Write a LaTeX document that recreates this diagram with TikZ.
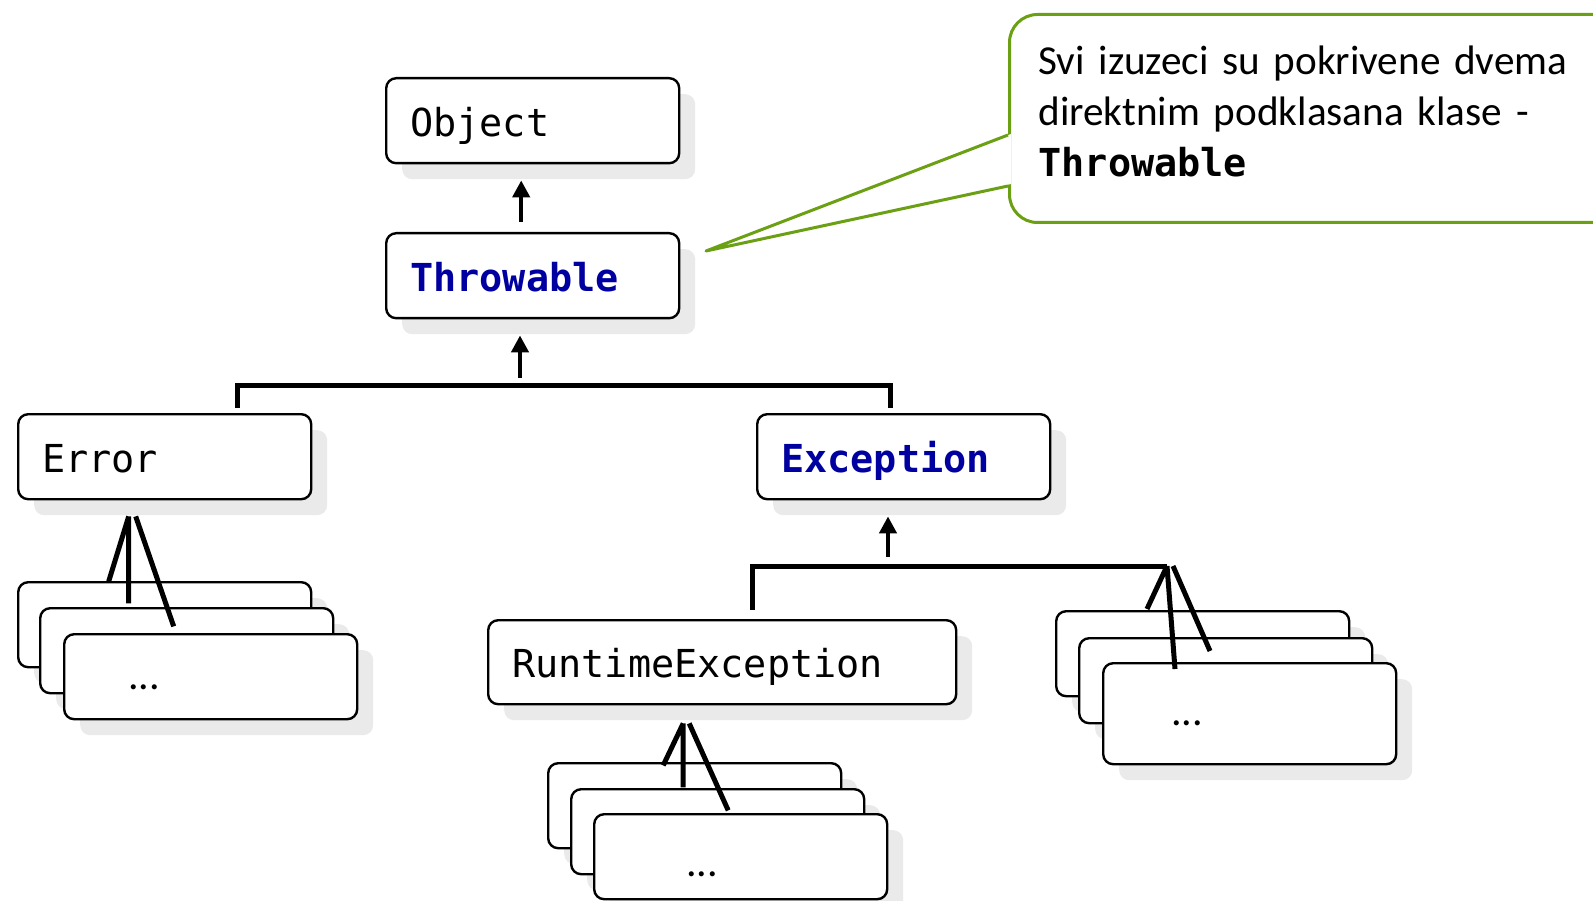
\documentclass[tikz,border=0pt]{standalone}
\usepackage{fontspec}
\setmainfont{Carlito}
\newfontfamily\codefont{DejaVu Sans Mono}
\usetikzlibrary{arrows.meta, positioning, shadows}
\definecolor{keyblue}{RGB}{0,0,160}
\definecolor{notegreen}{RGB}{107,160,20}
\definecolor{shade}{RGB}{234,234,234}

\begin{document}
\begin{tikzpicture}[x=1pt, y=-1pt,
    cls/.style={draw, line width=2.4pt, rounded corners=10pt, fill=white,
      minimum width=293pt, minimum height=85pt, text width=245pt, align=left,
      inner xsep=24pt, inner ysep=0pt, text height=31pt, text depth=0pt,
      anchor=north west, font=\codefont\fontsize{38.5}{46}\selectfont,
      drop shadow={shadow xshift=16pt, shadow yshift=-16pt, fill=shade, opacity=1}},
    key/.style={text=keyblue, font=\codefont\bfseries\fontsize{38.5}{46}\selectfont},
    conn/.style={line width=5pt},
    arr/.style={line width=4.5pt, -{Triangle[length=17pt, width=17pt]}},
    dots/.style={font=\fontsize{42}{50}\selectfont, inner sep=0pt}]
  \clip (0,0) rectangle (1593,901);
  % class hierarchy
  \node[cls] (object) at (385,77) {Object};
  \node[cls, key] (throwable) at (385,232) {Throwable};
  \node[cls] (error) at (17,413) {Error};
  \node[cls, key] (exception) at (756,413) {Exception};
  \node[cls, minimum width=468pt, text width=420pt, minimum height=84pt] (runtime) at (487,619) {RuntimeException};
  % stacked subclasses
  \node[cls] (errA) at (17,581) {};
  \node[cls] (errB) at (39,607) {};
  \node[cls] (errC) at (63,633) {};
  \node[dots] (errDots) at (144,687) {...};
  \node[cls] (rtA) at (547,762) {};
  \node[cls] (rtB) at (570,788) {};
  \node[cls] (rtC) at (593,813) {};
  \node[dots] (rtDots) at (702,874) {...};
  \node[cls] (exA) at (1055,610) {};
  \node[cls] (exB) at (1078,637) {};
  \node[cls, minimum height=101pt] (exC) at (1102,662) {};
  \node[dots] (exDots) at (1187,723) {...};
  % arrows and bars
  \coordinate (barL) at (237,385);
  \coordinate (barR) at (890,385);
  \coordinate (up1) at (520,378);
  \coordinate (bar2L) at (752,566);
  \coordinate (fanX) at (1167,566);
  \coordinate (up2) at (888,557);
  \draw[arr] ([xshift=-11.5pt,yshift=10pt]throwable.north) -- ([xshift=-11.5pt,yshift=-16pt]object.south);
  \draw[arr] (up1) -- ([yshift=-16pt]throwable.south -| up1);
  \draw[conn] ([yshift=5pt]error.north -| barL) -- (barL) -- (barR) -- ([yshift=5pt]exception.north -| barR);
  \draw[arr] (up2) -- ([yshift=-16pt]exception.south -| up2);
  \draw[conn] ([yshift=9pt]runtime.north -| bar2L) -- (bar2L) -- (fanX);
  % fans into the stacks
  \coordinate (fanE) at ([xshift=-36pt,yshift=-16pt]error.south);
  \coordinate (fanR) at ([xshift=-39pt,yshift=-18pt]runtime.south);
  \draw[conn] (fanE) -- ++(-20,65) (fanE) -- ++(0,87) ([xshift=7pt]fanE) -- ++(38,110);
  \draw[conn] (fanR) -- ++(-20,42) (fanR) -- ++(0,64) ([xshift=6pt]fanR) -- ++(39,87);
  \draw[conn] (fanX) -- ++(-20,43) (fanX) -- ++(8,103) ([xshift=6pt]fanX) -- ++(37,85);
  % callout
  \node[draw=notegreen, line width=3pt, rounded corners=28pt, fill=white, anchor=north west,
    minimum width=620pt, minimum height=208pt, text width=562pt, inner xsep=29pt, align=left,
    font=\fontsize{41.2}{51}\selectfont] (note) at (1008,13)
    {Svi izuzeci su pokrivene dvema\\direktnim podklasana klase -\\{\codefont\bfseries\fontsize{38.5}{51}\selectfont Throwable}\rule[-14pt]{0pt}{0pt}};
  \coordinate (tip) at (706,251);
  \fill[white] (tip) -- ([xshift=3pt,yshift=-121pt]note.north west) -- ([xshift=3pt,yshift=-171pt]note.north west) -- cycle;
  \draw[notegreen, line width=3pt, line join=round]
    ([yshift=-122pt]note.north west) -- (tip) -- ([yshift=-173pt]note.north west);
\end{tikzpicture}
\end{document}
